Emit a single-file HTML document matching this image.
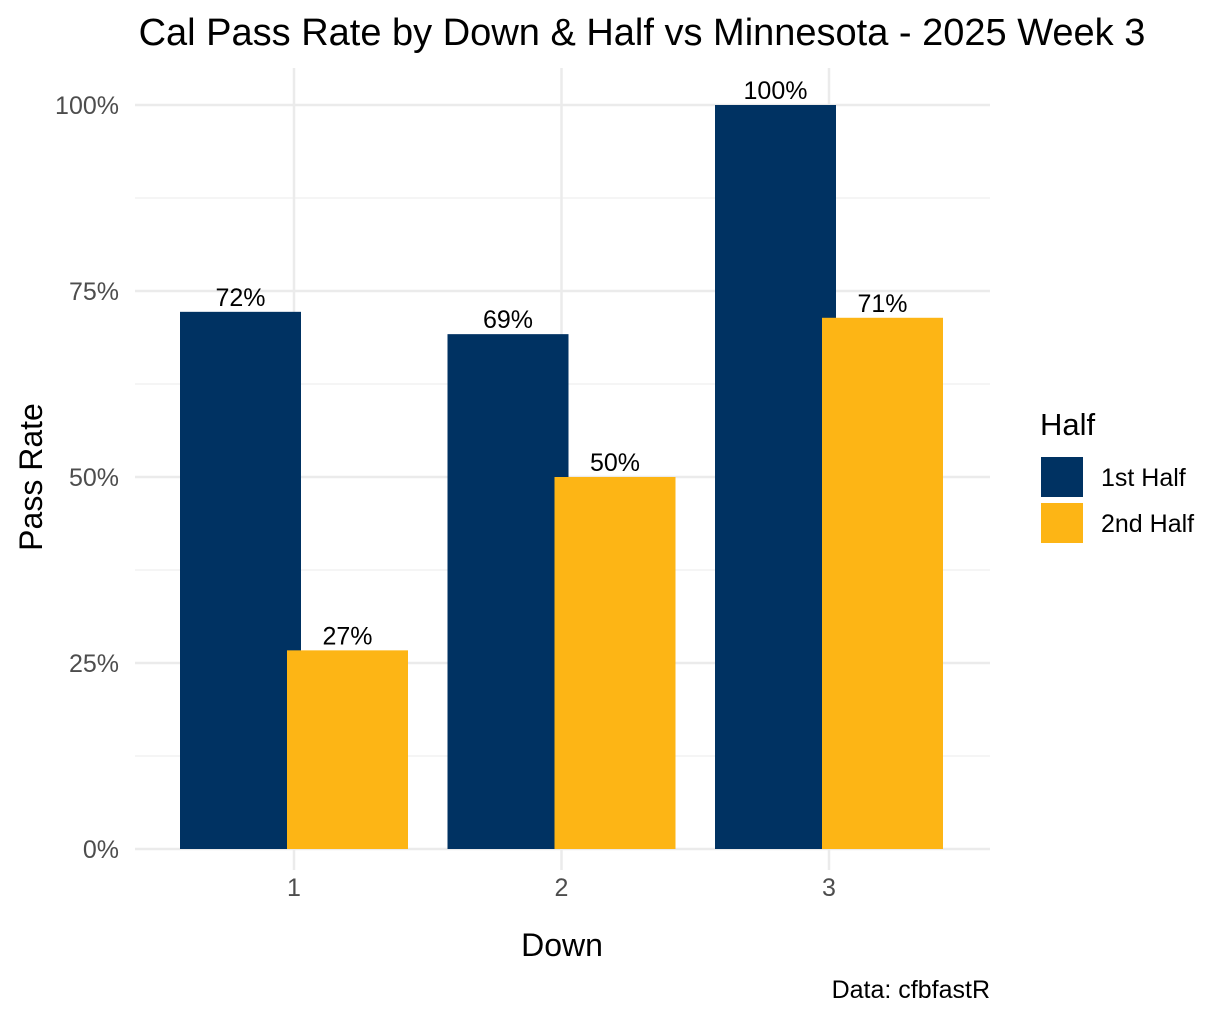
<!DOCTYPE html>
<html><head><meta charset="utf-8"><style>
body{margin:0;background:#fff}
svg{display:block;font-family:"Liberation Sans",Arial,sans-serif}
</style></head><body>
<svg id="chart" width="1228" height="1018" viewBox="0 0 1228 1018">
<rect width="1228" height="1018" fill="#fff"/>
<text x="642" y="45" text-anchor="middle" font-size="38" fill="#000">Cal Pass Rate by Down &amp; Half vs Minnesota - 2025 Week 3</text>
<g id="grid"></g>
<g id="bars"></g>
<g id="labels"></g>
<g id="axes"></g>
<text transform="translate(42,477) rotate(-90)" text-anchor="middle" font-size="32">Pass Rate</text>
<text x="562" y="956" text-anchor="middle" font-size="32">Down</text>
<text x="990" y="998" text-anchor="end" font-size="25">Data: cfbfastR</text>
<g>
<text x="1040" y="435" font-size="31">Half</text>
<rect x="1041" y="457" width="42" height="40" fill="#003262"/>
<text x="1101" y="486" font-size="25">1st Half</text>
<rect x="1041" y="503" width="42" height="40" fill="#FDB515"/>
<text x="1101" y="532" font-size="25">2nd Half</text>
</g>
</svg>
<script>
const categories=["1","2","3"];
const firstHalf=[72.2,69.2,100];
const secondHalf=[26.7,50,71.4];
const valueLabels1=["72%","69%","100%"];
const valueLabels2=["27%","50%","71%"];
const yTicks=[0,25,50,75,100];
const yTickLabels=["0%","25%","50%","75%","100%"];
const NS="http://www.w3.org/2000/svg";
const y0=849,y100=105,xLeft=135,xRight=990;
const xPos=i=>294+i*267.5;
const yPos=v=>y0-(v/100)*(y0-y100);
function mk(tag,attrs,parent){const e=document.createElementNS(NS,tag);for(const k in attrs)e.setAttribute(k,attrs[k]);parent.appendChild(e);return e;}
const grid=document.getElementById('grid'),bars=document.getElementById('bars'),labels=document.getElementById('labels'),axes=document.getElementById('axes');
for(let i=0;i<yTicks.length-1;i++){const v=(yTicks[i]+yTicks[i+1])/2;
 const l=mk('line',{x1:xLeft,x2:xRight,y1:yPos(v),y2:yPos(v),stroke:'#f2f2f2','stroke-width':1.5},grid);
 
 }
yTicks.forEach((v,i)=>{const l=mk('line',{x1:xLeft,x2:xRight,y1:yPos(v),y2:yPos(v),stroke:'#ebebeb','stroke-width':2.5},grid);
 
 
 const t=mk('text',{x:119,y:yPos(v)+9,'text-anchor':'end','font-size':25,fill:'#4d4d4d'},axes);t.textContent=yTickLabels[i];
 
 });
categories.forEach((c,i)=>{const l=mk('line',{x1:xPos(i),x2:xPos(i),y1:68,y2:870,stroke:'#ebebeb','stroke-width':2.5},grid);
 
 
 const t=mk('text',{x:xPos(i),y:896,'text-anchor':'middle','font-size':25,fill:'#4d4d4d'},axes);t.textContent=c;
 
 });
const bw=121,off=53.5;
categories.forEach((c,i)=>{
 [[firstHalf,valueLabels1,-off,'#003262','1st'],[secondHalf,valueLabels2,off,'#FDB515','2nd']].forEach(([arr,lab,o,col,n])=>{
  const cx=xPos(i)+o;
  const r=mk('rect',{x:cx-bw/2,y:yPos(arr[i]),width:bw,height:y0-yPos(arr[i]),fill:col},bars);
  
  
  const t=mk('text',{x:cx,y:yPos(arr[i])-6,'text-anchor':'middle','font-size':25,fill:'#000'},labels);t.textContent=lab[i];
  
  
 });});
</script>
</body></html>
